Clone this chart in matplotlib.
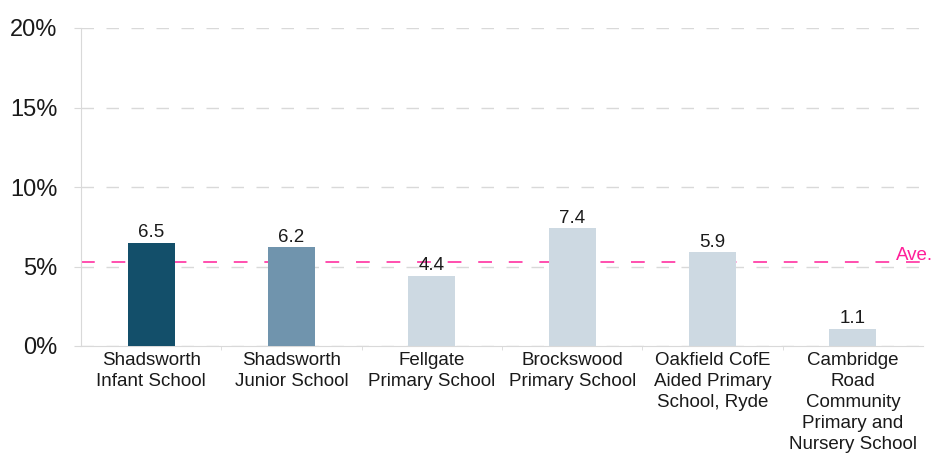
import matplotlib
matplotlib.use("Agg")
from matplotlib import pyplot as plt
from matplotlib.ticker import FixedLocator

plt.rcParams['font.family'] = ['Liberation Sans', 'DejaVu Sans']

# data
schools = ['Shadsworth\nInfant School', 'Shadsworth\nJunior School', 'Fellgate\nPrimary School',
           'Brockswood\nPrimary School', 'Oakfield CofE\nAided Primary\nSchool, Ryde',
           'Cambridge\nRoad\nCommunity\nPrimary and\nNursery School']
values = [6.5, 6.2, 4.4, 7.4, 5.9, 1.1]
average = 5.3
yticks = [0, 5, 10, 15, 20]
bar_colors = ['#134f6a', '#7094ad', '#cdd9e2', '#cdd9e2', '#cdd9e2', '#cdd9e2']

grey = '#d9d9d9'
pink = '#ff1f99'

fig = plt.figure(figsize=(9.33, 4.53), dpi=100)
ax = fig.add_axes([81 / 933, 1 - 346 / 453, 842 / 933, 318 / 453])

x = list(range(len(schools)))
bars = ax.bar(x, values, width=0.335, color=bar_colors, zorder=3)
for b, v in zip(bars, values):
    ax.text(b.get_x() + b.get_width() / 2, v + 0.1, f'{v:.1f}', ha='center', va='bottom',
            fontsize=13.5, color='#1a1a1a', zorder=4)

# average line
ax.axhline(average, color=pink, lw=1.1, dashes=(9, 11), zorder=2)
ax.annotate('Ave.', xy=(5.31, average), xytext=(0, 4.5), textcoords='offset points',
            ha='left', va='center', color=pink, fontsize=13.5, annotation_clip=False)

ax.set_xlim(-0.5, 5.5)
ax.set_ylim(0, 20)
ax.set_yticks(yticks)
ax.set_yticklabels([f'{t}%' for t in yticks], fontsize=17, color='#1a1a1a')
ax.set_xticks(x)
ax.set_xticklabels(schools, fontsize=13.5, color='#1a1a1a', linespacing=1.31)
ax.xaxis.set_minor_locator(FixedLocator([i + 0.5 for i in range(len(schools) - 1)]))

ax.tick_params(axis='y', length=5, color=grey, pad=12)
ax.tick_params(axis='x', which='major', length=0, pad=4)
ax.tick_params(axis='x', which='minor', length=3, color=grey)

ax.grid(axis='y', color=grey, lw=1, dashes=(9, 9), zorder=1)
ax.set_axisbelow(True)

for s in ['top', 'right']:
    ax.spines[s].set_visible(False)
ax.spines['left'].set_color(grey)
ax.spines['bottom'].set_color(grey)

plt.savefig('out.png', dpi=100)
